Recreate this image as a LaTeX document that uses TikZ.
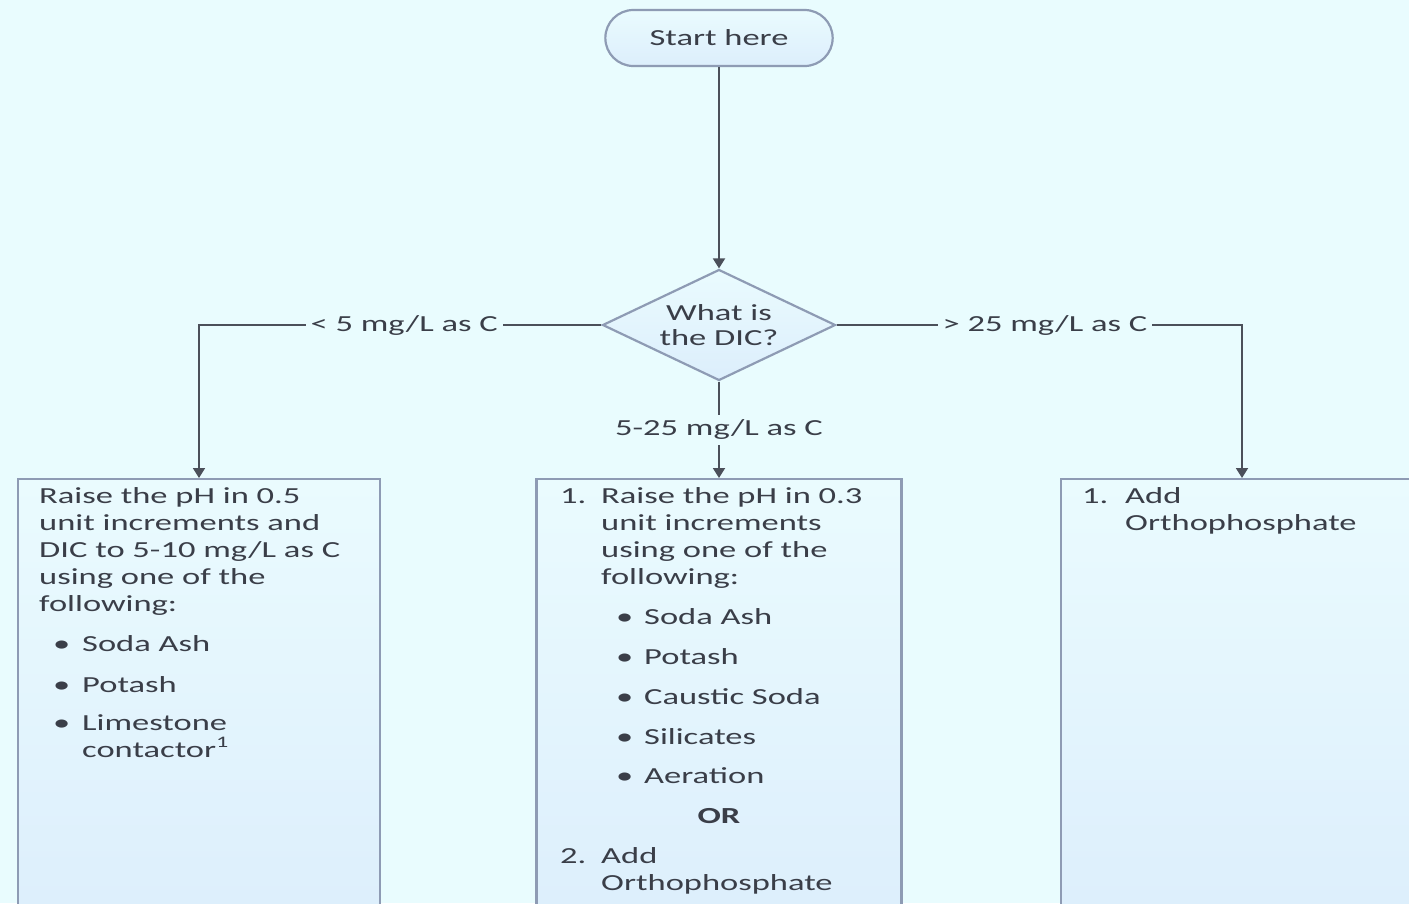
\documentclass[tikz,border=0pt]{standalone}
\usepackage{fontspec}
\setmainfont{Carlito}[FakeStretch=1.5]
\usetikzlibrary{shapes.geometric,shapes.misc,arrows.meta}

\definecolor{bgcyan}{HTML}{E9FCFE}
\definecolor{boxtop}{HTML}{EAFBFE}
\definecolor{boxbot}{HTML}{DCEEFC}
\definecolor{edgegray}{HTML}{8E9BB4}
\definecolor{linegray}{HTML}{4B505A}
\definecolor{txtgray}{HTML}{3A3E48}

\tikzset{
  flow/.style={draw=linegray, line width=1.8pt, -{Triangle[width=12pt,length=10pt]}},
  startbox/.style={rounded rectangle, draw=edgegray, line width=2.2pt, top color=boxtop, bottom color=boxbot,
    minimum width=234pt, minimum height=56pt, text=txtgray, font=\fontsize{23}{25}\selectfont},
  decision/.style={diamond, draw=edgegray, line width=2.2pt, top color=boxtop, bottom color=boxbot, aspect=2.1,
    inner sep=0pt, minimum width=233pt, minimum height=111pt, align=center, text=txtgray,
    font=\fontsize{23}{25}\selectfont},
  stepbox/.style={rectangle, draw=edgegray, line width=2.2pt, top color=boxtop, bottom color=boxbot,
    anchor=north, minimum height=460pt},
  lbl/.style={fill=bgcyan, inner sep=5pt, text=txtgray, font=\fontsize{23}{25}\selectfont},
  txt/.style={anchor=base west, inner sep=0pt, text=txtgray, font=\fontsize{23}{27}\selectfont}
}

\begin{document}
\begin{tikzpicture}[x=1pt, y=-1pt]
    \useasboundingbox (0,0) rectangle (1409,903);
    \clip (0,0) rectangle (1409,903);
    \fill[bgcyan] (0,0) rectangle (1409,903);

    % Start and decision
    \node[startbox] (start) at (719,38) {Start here};
    \node[decision] (dic) at (719,325) {What is\\the DIC?};

    % The three action boxes
    \node[stepbox, minimum width=362pt] (lbox) at (199,478) {};
    \node[stepbox, minimum width=365pt] (mbox) at (719,478) {};
    \node[stepbox, minimum width=362pt] (rbox) at (1242,478) {};

    % Connectors
    \draw[flow] (start) -- (dic);
    \draw[flow] (dic.west) -| node[lbl, pos=0.245] (lowlbl) {< 5 mg/L as C} (lbox.north);
    \draw[flow] (dic.east) -| node[lbl, pos=0.257] (highlbl) {> 25 mg/L as C} (rbox.north);
    \draw[flow] (dic.south) -- node[lbl, pos=0.5] (midlbl) {5-25 mg/L as C} (mbox.north);

    % Left box text
    \foreach \n/\y/\t in {1/503/{Raise the pH in 0.5}, 2/530/{unit increments and},
        3/557/{DIC to 5-10 mg/L as C}, 4/584/{using one of the}, 5/611/{following:}} {
        \node[txt] (la\n) at (39,\y) {\t};
    }
    \foreach \n/\y/\t in {1/651/Soda Ash, 2/692/Potash, 3/730/Limestone} {
        \node[txt] (lb\n) at (53,\y) {\textbullet};
        \node[txt] (lc\n) at (82,\y) {\t};
    }
    \node[txt] (lc4) at (82,757) {contactor\textsuperscript{1}};

    % Middle box text
    \node[txt] (ma0) at (560,503) {1.};
    \foreach \n/\y/\t in {1/503/{Raise the pH in 0.3}, 2/530/{unit increments},
        3/557/{using one of the}, 4/584/{following:}} {
        \node[txt] (ma\n) at (601,\y) {\t};
    }
    \foreach \n/\y/\t in {1/624/Soda Ash, 2/664/Potash, 3/704/Caustic Soda, 4/744/Silicates, 5/783/Aeration} {
        \node[txt] (mb\n) at (616,\y) {\textbullet};
        \node[txt] (mc\n) at (644,\y) {\t};
    }
    \node[txt, anchor=base] (mor) at (719,823) {\textbf{OR}};
    \node[txt] (md0) at (560,863) {2.};
    \node[txt] (md1) at (601,863) {Add};
    \node[txt] (md2) at (601,890) {Orthophosphate};

    % Right box text
    \node[txt] (ra0) at (1082,503) {1.};
    \node[txt] (ra1) at (1125,503) {Add};
    \node[txt] (ra2) at (1125,530) {Orthophosphate};
\end{tikzpicture}
\end{document}
